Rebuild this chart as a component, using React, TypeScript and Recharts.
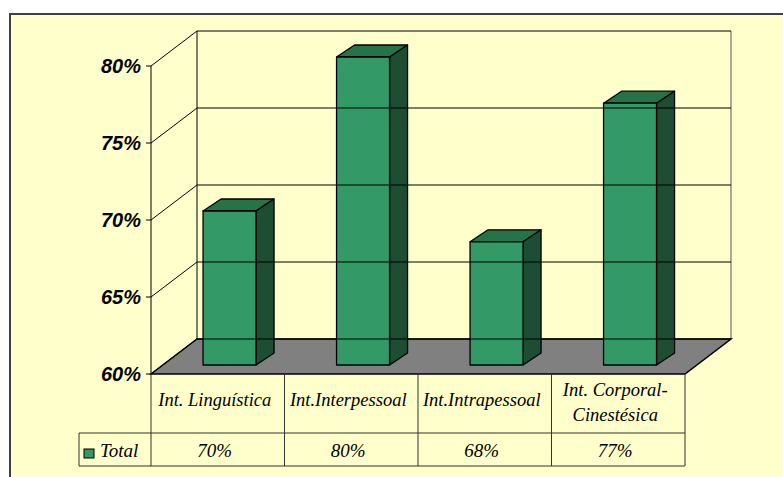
import { Bar, BarChart, Customized, XAxis, YAxis } from "recharts";

const categories = [
  "Int. Linguística",
  "Int.Interpessoal",
  "Int.Intrapessoal",
  "Int. Corporal-\nCinestésica",
];
const totalValues = [70, 80, 68, 77];
const yTicks = [60, 65, 70, 75, 80];
const seriesName = "Total";

const data = categories.map((name, i) => ({ name, total: totalValues[i] }));

const W = 783;
const H = 477;
const LEFT = 151;
const RIGHT = 685;
const TOP = 66;
const BOTTOM = 374;
const DEPTH_X = 46;
const DEPTH_Y = 35;
const ROW1 = 433;
const ROW2 = 466;
const LEGEND_LEFT = 79;
const BAND = (RIGHT - LEFT) / categories.length;

const FRONT = "#339966";
const TOP_FACE = "#267349";
const SIDE = "#1d4d33";
const TABLE_LINE = "#333";
const serif = "'Liberation Serif', 'Times New Roman', serif";
const sans = "'Liberation Sans', Arial, sans-serif";

const Background = () => (
  <g>
    <rect x={10} y={14} width={W} height={H} fill="#ffffcc" stroke="#404040" strokeWidth={2} />
    <line x1={LEFT + DEPTH_X} y1={TOP - DEPTH_Y} x2={LEFT + DEPTH_X} y2={BOTTOM - DEPTH_Y} stroke="#000" />
    <line x1={RIGHT + DEPTH_X} y1={TOP - DEPTH_Y} x2={RIGHT + DEPTH_X} y2={BOTTOM - DEPTH_Y} stroke="#555" />
  </g>
);

const Floor = () => (
  <path
    d={`M${LEFT},${BOTTOM} L${RIGHT},${BOTTOM} L${RIGHT + DEPTH_X},${BOTTOM - DEPTH_Y} L${LEFT + DEPTH_X},${BOTTOM - DEPTH_Y} Z`}
    fill="#808080"
    stroke="#000"
    strokeWidth={1.5}
  />
);

const Bar3D = (props: any) => {
  const { x, y, width, height } = props;
  const bx = x + 12;
  const by = y - 9;
  const dx = 18;
  const dy = 12;
  return (
    <g stroke="#000" strokeWidth={1.3} strokeLinejoin="round">
      <path
        d={`M${bx},${by} L${bx + dx},${by - dy} L${bx + width + dx},${by - dy} L${bx + width},${by} Z`}
        fill={TOP_FACE}
      />
      <path
        d={`M${bx + width},${by} L${bx + width + dx},${by - dy} L${bx + width + dx},${by + height - dy} L${bx + width},${by + height} Z`}
        fill={SIDE}
      />
      <rect x={bx} y={by} width={width} height={height} fill={FRONT} />
    </g>
  );
};

const YTick = (props: any) => {
  const { y, payload } = props;
  return (
    <g>
      <line x1={LEFT} y1={y} x2={LEFT + DEPTH_X} y2={y - DEPTH_Y} stroke="#000" />
      <line x1={LEFT + DEPTH_X} y1={y - DEPTH_Y} x2={RIGHT + DEPTH_X} y2={y - DEPTH_Y} stroke="#000" />
      <line x1={LEFT - 5} y1={y} x2={LEFT} y2={y} stroke="#000" />
      <text
        x={LEFT - 10}
        y={y + 7}
        textAnchor="end"
        fontFamily={sans}
        fontSize={20}
        fontWeight="bold"
        fontStyle="italic"
        fill="#000"
      >
        {payload.value}%
      </text>
    </g>
  );
};

const TableTick = (props: any) => {
  const { x, payload, index } = props;
  const lines = String(payload.value).split("\n");
  const base = lines.length === 1 ? 406 : 396;
  const x0 = x - BAND / 2;
  const x1 = x + BAND / 2;
  return (
    <g>
      {index === 0 && (
        <g stroke={TABLE_LINE}>
          <line x1={x0} y1={BOTTOM} x2={x0} y2={ROW2} />
          <line x1={LEGEND_LEFT} y1={ROW1} x2={x0} y2={ROW1} />
          <line x1={LEGEND_LEFT} y1={ROW2} x2={x0} y2={ROW2} />
          <line x1={LEGEND_LEFT} y1={ROW1} x2={LEGEND_LEFT} y2={ROW2} />
          <rect x={84} y={449} width={10} height={9} fill={FRONT} stroke="#000" />
          <text
            x={100}
            y={457}
            fontFamily={serif}
            fontSize={19}
            fontStyle="italic"
            fill="#000"
            stroke="none"
          >
            {seriesName}
          </text>
        </g>
      )}
      <g stroke={TABLE_LINE}>
        <line x1={x1} y1={BOTTOM} x2={x1} y2={ROW2} />
        <line x1={x0} y1={ROW1} x2={x1} y2={ROW1} />
        <line x1={x0} y1={ROW2} x2={x1} y2={ROW2} />
      </g>
      {lines.map((ln, k) => (
        <text
          key={k}
          x={x - 3}
          y={base + k * 25}
          textAnchor="middle"
          fontFamily={serif}
          fontSize={18.5}
          fontStyle="italic"
          fill="#000"
        >
          {ln}
        </text>
      ))}
      <text
        x={x - 3}
        y={457}
        textAnchor="middle"
        fontFamily={serif}
        fontSize={19}
        fontStyle="italic"
        fill="#000"
      >
        {Math.round(totalValues[index])}%
      </text>
    </g>
  );
};

export default function App() {
  return (
    <div style={{ position: "absolute", left: 0, top: 0, width: W, height: H, background: "#fff" }}>
      <BarChart
        width={W}
        height={H}
        data={data}
        margin={{ top: TOP, right: W - RIGHT, bottom: H - ROW2, left: LEFT - 60 }}
        barCategoryGap="30%"
      >
        <Customized component={Background} />
        <XAxis
          dataKey="name"
          height={ROW2 - BOTTOM}
          axisLine={false}
          tickLine={false}
          interval={0}
          tick={<TableTick />}
        />
        <YAxis
          width={60}
          domain={[60, 80]}
          ticks={yTicks}
          axisLine={{ stroke: "#000" }}
          tickLine={false}
          tick={<YTick />}
        />
        <Customized component={Floor} />
        <Bar dataKey="total" name={seriesName} shape={<Bar3D />} isAnimationActive={false} />
      </BarChart>
    </div>
  );
}
